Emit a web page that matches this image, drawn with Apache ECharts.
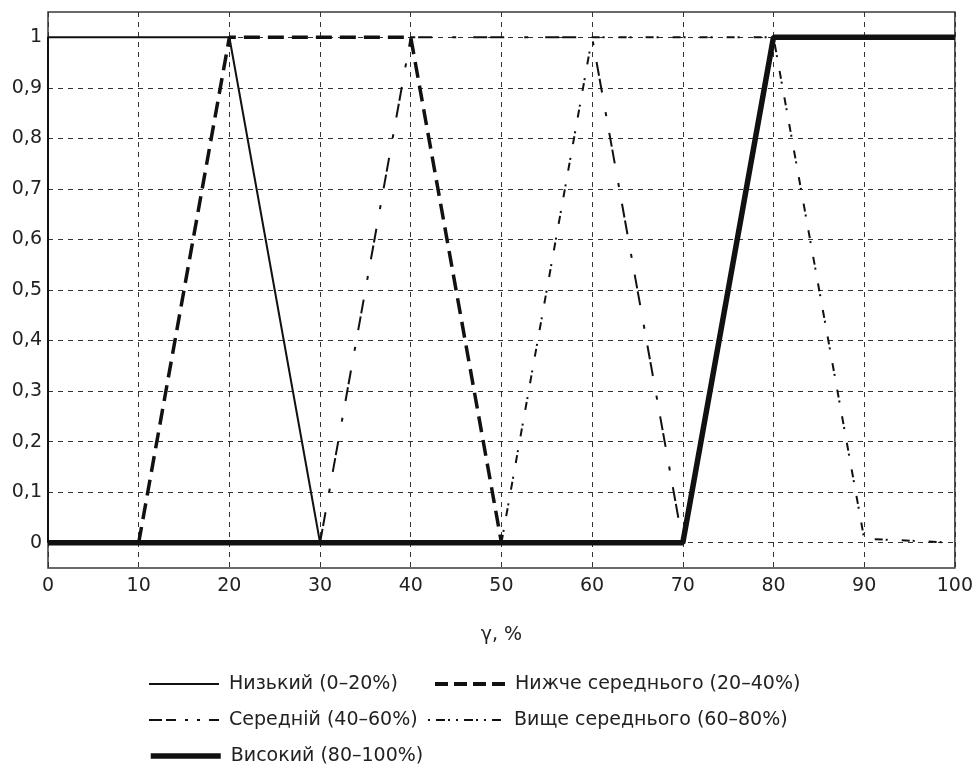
<!DOCTYPE html>
<html>
<head>
<meta charset="utf-8">
<script src="https://cdn.jsdelivr.net/npm/echarts@6/dist/echarts.min.js"></script>
<style>
  html, body { margin: 0; padding: 0; background: #fff; }
  #chart { width: 976px; height: 781px; }
</style>
</head>
<body>
<div id="chart"></div>
<script>
// ---- data ----
const seriesNames = ['Низький (0–20%)', 'Нижче середнього (20–40%)', 'Середній (40–60%)', 'Вище середнього (60–80%)', 'Високий (80–100%)'];
const lowX = [0, 0, 20, 30];
const lowY = [0, 1, 1, 0];
const belowAvgX = [10, 20, 40, 50];
const belowAvgY = [0, 1, 1, 0];
const avgX = [30, 40, 60, 70];
const avgY = [0, 1, 1, 0];
const aboveAvgX = [50, 60, 80, 90, 100];
const aboveAvgY = [0, 1, 1, 0.008, 0];
const highX = [0, 70, 80, 100];
const highY = [0, 0, 1, 1];
const xTickLabels = ['0', '10', '20', '30', '40', '50', '60', '70', '80', '90', '100'];
const yTickLabels = ['0', '0,1', '0,2', '0,3', '0,4', '0,5', '0,6', '0,7', '0,8', '0,9', '1'];
const xAxisName = 'γ, %';

function pts(xs, ys) { return xs.map((x, i) => [x, ys[i]]); }

const FONT = 'DejaVu Sans';
const chart = echarts.init(document.getElementById('chart'), null, { renderer: 'canvas' });

const styles = [
  { width: 2, type: 'solid' },
  { width: 3.5, type: [16, 8] },
  { width: 2, type: [14, 3, 14, 20, 4, 17] },
  { width: 2, type: [8, 3, 2, 14] },
  { width: 5.5, type: 'solid' }
];
const legendStyles = [
  { width: 2, type: 'solid' },
  { width: 4, type: [13, 6] },
  { width: 2, type: [13, 4, 10, 9, 3, 9, 3, 9] },
  { width: 2, type: [2, 6, 9, 3, 2, 6] },
  { width: 5.5, type: 'solid' }
];
const dataSets = [pts(lowX, lowY), pts(belowAvgX, belowAvgY), pts(avgX, avgY), pts(aboveAvgX, aboveAvgY), pts(highX, highY)];

const legendPos = [
  { left: 148, top: 673, w: 70 },
  { left: 433, top: 673, w: 70 },
  { left: 148, top: 709, w: 70 },
  { left: 427, top: 709, w: 76 },
  { left: 148, top: 745, w: 70 }
];

chart.setOption({
  animation: false,
  backgroundColor: '#fff',
  textStyle: { fontFamily: FONT },
  grid: { left: 48, right: 19, top: 12, bottom: 213, show: true, borderColor: '#3a3a3a', borderWidth: 1.5, backgroundColor: 'transparent' },
  xAxis: {
    type: 'value', min: 0, max: 100, interval: 10,
    name: xAxisName, nameLocation: 'middle', nameGap: 58,
    nameTextStyle: { fontFamily: FONT, fontSize: 19, color: '#222' },
    axisLine: { show: false }, axisTick: { show: false },
    axisLabel: { margin: 9, fontFamily: FONT, fontSize: 19, color: '#222',
      formatter: v => { const i = Math.round(v / 10); return xTickLabels[i] !== undefined ? xTickLabels[i] : ''; } },
    splitLine: { show: true, lineStyle: { color: '#333', width: 1, type: [5, 5] } }
  },
  yAxis: {
    type: 'value', min: -0.05, max: 1.05, interval: 0.05,
    axisLine: { show: false }, axisTick: { show: false },
    axisLabel: { margin: 6, fontFamily: FONT, fontSize: 19, color: '#222', showMinLabel: true, showMaxLabel: true,
      formatter: v => { const k = Math.round(v * 100); if (k < 0 || k > 100 || k % 10 !== 0) return ''; return yTickLabels[k / 10]; } },
    splitLine: { show: true, lineStyle: { color: ['rgba(0,0,0,0)', '#333'], width: 1, type: [5, 5] } }
  },
  legend: legendPos.map((p, i) => ({
    data: [seriesNames[i]],
    left: p.left, top: p.top, orient: 'horizontal', padding: 0,
    itemWidth: p.w, itemHeight: 14, selectedMode: false,
    itemStyle: { color: 'rgba(0,0,0,0)', borderWidth: 0, opacity: 0 },
    lineStyle: { color: '#111', width: legendStyles[i].width, type: legendStyles[i].type, opacity: 1 },
    textStyle: { fontFamily: FONT, fontSize: 19, color: '#222', lineHeight: 22, padding: [0, 0, 0, 5] }
  })),
  series: seriesNames.map((name, i) => ({
    name: name, type: 'line', data: dataSets[i], symbol: 'none', showSymbol: false,
    z: i === 4 ? 3 : 4,
    lineStyle: { color: '#111', width: styles[i].width, type: styles[i].type },
    itemStyle: { color: '#111' }
  }))
});
</script>
</body>
</html>
